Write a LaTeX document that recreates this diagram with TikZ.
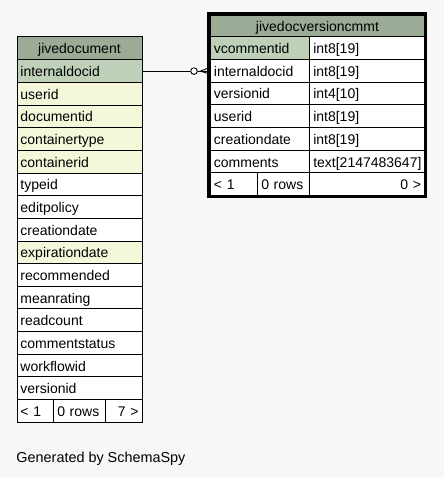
\documentclass[tikz,border=0pt]{standalone}
\usepackage{fontspec}
\setmainfont{Liberation Sans}
\definecolor{bgc}{HTML}{F7F7F7}
\definecolor{headc}{HTML}{9BAB96}
\definecolor{pkc}{HTML}{BED1B8}
\definecolor{idxc}{HTML}{F4F7DA}
\begin{document}
\begin{tikzpicture}[x=1bp,y=-1bp,
  every node/.style={font=\fontsize{14bp}{16bp}\selectfont},
  cell/.style={draw=black, line width=0.9bp, anchor=north west, minimum height=22.7bp,
    inner xsep=3.5bp, inner ysep=0pt, align=left, text height=11bp, text depth=0bp, fill=white},
  lcell/.style={cell, text width=118bp},
  rname/.style={cell, text width=92.3bp},
  rtype/.style={cell, text width=107.7bp},
  head/.style={cell, fill=headc, align=center},
  pk/.style={fill=pkc},
  idx/.style={fill=idxc},
  conn/.style={line width=0.9bp}]
\fill[bgc] (0,0) rectangle (444,477);
\useasboundingbox (0,0) rectangle (444,477);

% left table jivedocument
\node[head, text width=118bp, minimum height=23.6bp] (lt) at (16.5,35.7) {jivedocument};
\node[lcell, pk]  (l1) at (16.5,59.3) {internaldocid};
\node[lcell, idx] (l2) at (16.5,81.95) {userid};
\node[lcell, idx] (l3) at (16.5,104.6) {documentid};
\node[lcell, idx] (l4) at (16.5,127.25) {containertype};
\node[lcell, idx] (l5) at (16.5,149.9) {containerid};
\node[lcell] (l6) at (16.5,172.55) {typeid};
\node[lcell] (l7) at (16.5,195.2) {editpolicy};
\node[lcell] (l8) at (16.5,217.85) {creationdate};
\node[lcell, idx] (l9) at (16.5,240.5) {expirationdate};
\node[lcell] (l10) at (16.5,263.15) {recommended};
\node[lcell] (l11) at (16.5,285.8) {meanrating};
\node[lcell] (l12) at (16.5,308.45) {readcount};
\node[lcell] (l13) at (16.5,331.1) {commentstatus};
\node[lcell] (l14) at (16.5,353.75) {workflowid};
\node[lcell] (l15) at (16.5,376.4) {versionid};
\node[cell, text width=29.8bp] (lf1) at (16.5,399.05) {< 1};
\node[cell, text width=45bp] (lf2) at (53.3,399.05) {0 rows};
\node[cell, text width=29.2bp, align=right] (lf3) at (105.3,399.05) {7 >};

% right table jivedocversioncmmt
\node[head, text width=207bp, minimum height=21.3bp] (rt) at (210,15) {jivedocversioncmmt};
\node[rname, pk] (r1) at (210,36.3) {vcommentid};
\node[rtype] (t1) at (309.3,36.3) {int8[19]};
\node[rname] (r2) at (210,59.0) {internaldocid};
\node[rtype] (t2) at (309.3,59.0) {int8[19]};
\node[rname] (r3) at (210,81.7) {versionid};
\node[rtype] (t3) at (309.3,81.7) {int4[10]};
\node[rname] (r4) at (210,104.4) {userid};
\node[rtype] (t4) at (309.3,104.4) {int8[19]};
\node[rname] (r5) at (210,127.1) {creationdate};
\node[rtype] (t5) at (309.3,127.1) {int8[19]};
\node[rname] (r6) at (210,149.8) {comments};
\node[rtype] (t6) at (309.3,149.8) {text[2147483647]};
\node[cell, text width=40.3bp] (rf1) at (210,172.5) {< 1};
\node[cell, text width=45bp] (rf2) at (257.3,172.5) {0 rows};
\node[rtype, align=right] (rf3) at (309.3,172.5) {0 >};
\draw[line width=3.3bp] (208.3,13.3) rectangle (425.7,196.7);

% relationship
\coordinate (ringx) at (194,0);
\coordinate (cfx) at (200.5,0);
\node[draw, circle, line width=0.9bp, minimum size=6.6bp, inner sep=0pt, fill=white] (ring) at (l1.east -| ringx) {};
\coordinate (cf) at (l1.east -| cfx);
\coordinate (cfa) at ([yshift=3.4bp]r2.west);
\coordinate (cfb) at ([yshift=-3.4bp]r2.west);
\draw[conn] (l1.east) -- (ring.west);
\draw[conn] (ring.east) -- (cf -| r2.west);
\draw[conn] (cfa) -- (cf) -- (cfb);

\node[anchor=west, inner sep=0pt, font=\fontsize{14.4bp}{16bp}\selectfont] (gen) at (16.3,458.5) {Generated by SchemaSpy};
\end{tikzpicture}
\end{document}
